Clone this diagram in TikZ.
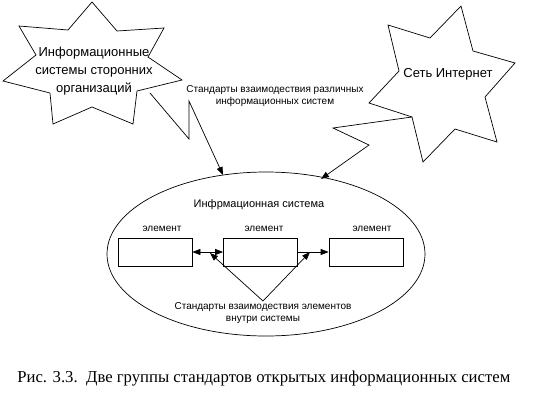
\documentclass[tikz,border=0pt]{standalone}
\usepackage{fontspec}
\setmainfont{Liberation Sans}
\newfontfamily\capfont{Liberation Serif}
\usetikzlibrary{arrows.meta,shapes.geometric}
\begin{document}
\begin{tikzpicture}[x=1pt,y=-1pt,line width=0.7pt,
  tipend/.style={-{Triangle[length=8pt,width=6pt]}},
  bothend/.style={{Triangle[length=8pt,width=6pt]}-{Triangle[length=8pt,width=6pt]}},
  elem/.style={draw,minimum width=74pt,minimum height=28pt,inner sep=0pt},
  small/.style={font=\fontsize{10}{12}\selectfont,inner sep=0pt,align=center},
  big/.style={font=\fontsize{13}{18}\selectfont,inner sep=0pt,align=center}]
\useasboundingbox (0,0) rectangle (550,408);
% left star
\draw (92,2) -- (117,31) -- (164,28) -- (148,57) -- (182,80) -- (137,91) -- (133,124)
  -- (92,107) -- (53,124) -- (50,93) -- (3,81) -- (36,55) -- (19,26) -- (68,30) -- cycle;
\node[big] (org) at (94,71) {Информационные\\системы сторонних\\организаций};
% right star
\draw (461,6) -- (473,51) -- (515,63) -- (485,97) -- (497,142) -- (455,129) -- (423,162)
  -- (412,117) -- (369,103) -- (399,71) -- (388,25) -- (430,38) -- cycle;
\node[big] (net) at (448,74) {Сеть Интернет};
% ellipse
\node[draw,ellipse,minimum width=318pt,minimum height=164pt,inner sep=0pt] (sys) at (266,254) {};
\node[font=\fontsize{11}{13}\selectfont,inner sep=0pt] (sysl) at (259,205) {Инфрмационная система};
% callouts
\node[small] (std1) at (275,96) {Стандарты взаимодествия различных\\информационных систем};
\coordinate (lcs) at (150,93);
\coordinate (lct) at (223,175);
\draw[tipend] (lcs) -- (189,139) -- (189,101) -- (lct);
\coordinate (rcs) at (412,117);
\coordinate (rct) at (321,179);
\draw[tipend] (rcs) -- (333,128) -- (369,145) -- (rct);
% elements
\node[elem] (e1) at (155,252) {};
\node[elem] (e2) at (260.5,252) {};
\node[elem] (e3) at (366,252) {};
\node[small] (l1) at (162,229) {элемент};
\node[small] (l2) at (264,229) {элемент};
\node[small] (l3) at (372,229) {элемент};
\draw[bothend] (e1.east) -- (e2.west);
\draw[tipend] (e2.east) -- (e3.west);
\node[small] (std2) at (263,313) {Стандарты взаимодествия элементов\\внутри системы};
\coordinate (apex) at (263,301);
\coordinate (t1) at (210,253);
\coordinate (t2) at (310,252);
\draw[tipend] (apex) -- (t1);
\draw[tipend] (apex) -- (t2);
% caption
\node[font=\capfont\fontsize{16.7}{18}\selectfont,inner sep=0pt,anchor=west] (cap) at (17,379) {Рис. 3.3.\ \ Две группы стандартов открытых информационных систем};
\end{tikzpicture}
\end{document}
